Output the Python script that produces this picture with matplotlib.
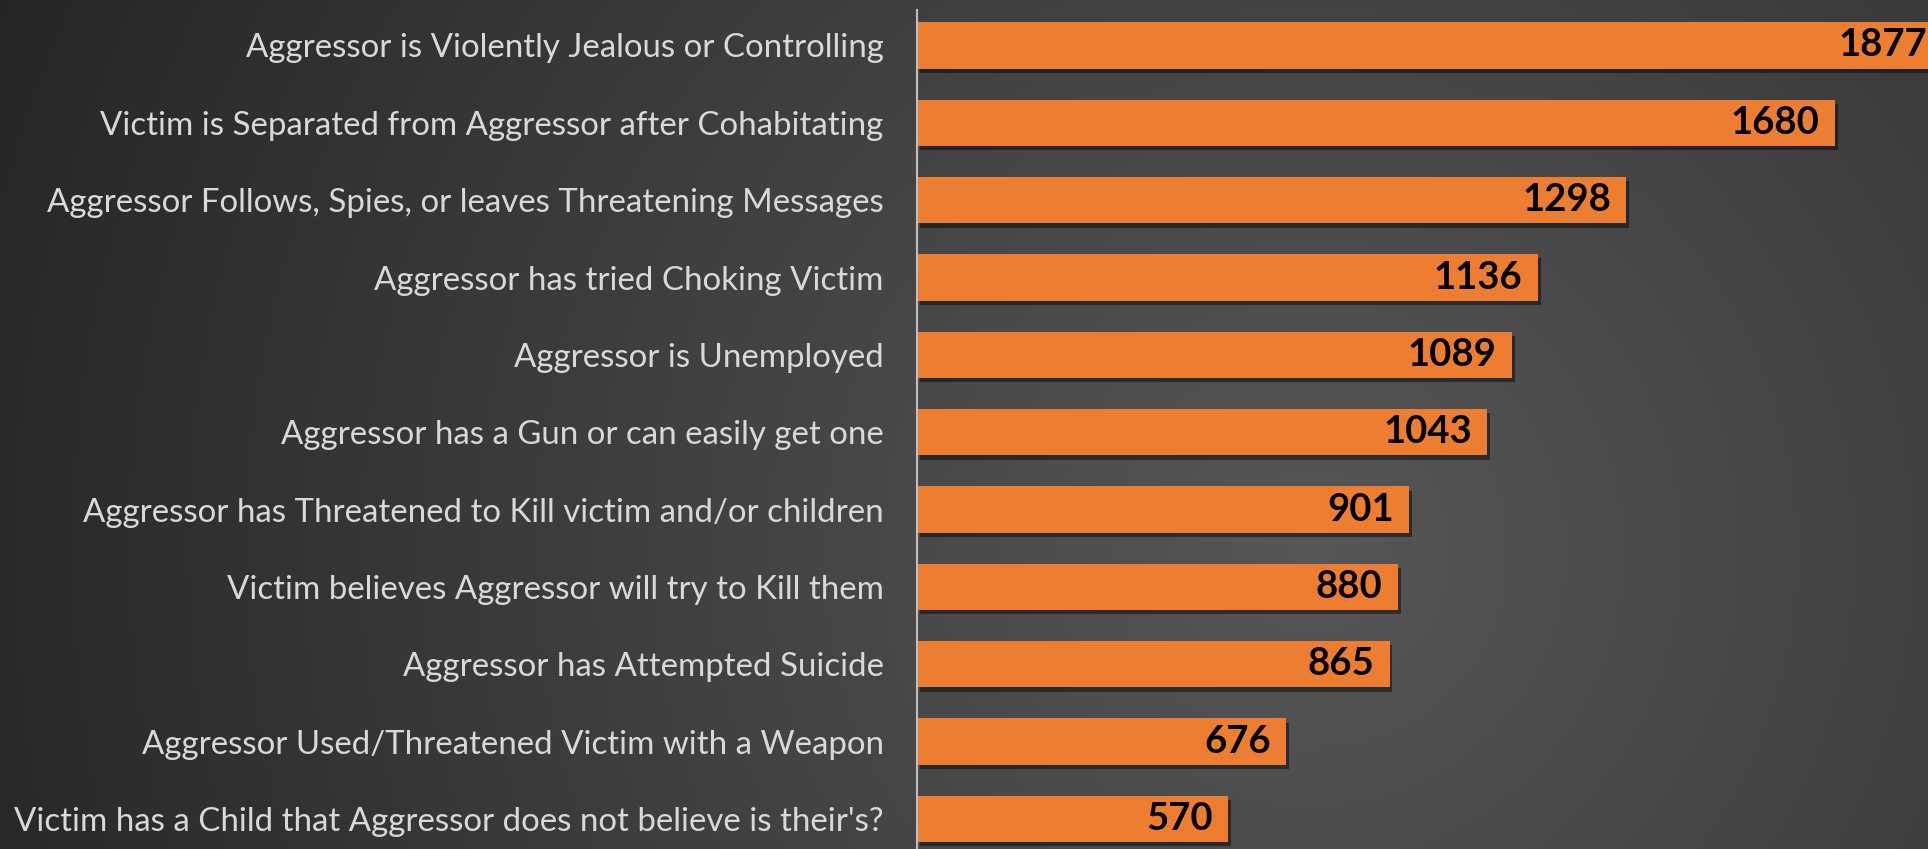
import numpy as np
import matplotlib
matplotlib.use("Agg")
import matplotlib.pyplot as plt
import matplotlib.patheffects as pe

# dados do grafico
categorias = [
    "Aggressor is Violently Jealous or Controlling",
    "Victim is Separated from Aggressor after Cohabitating",
    "Aggressor Follows, Spies, or leaves Threatening Messages",
    "Aggressor has tried Choking Victim",
    "Aggressor is Unemployed",
    "Aggressor has a Gun or can easily get one",
    "Aggressor has Threatened to Kill victim and/or children",
    "Victim believes Aggressor will try to Kill them",
    "Aggressor has Attempted Suicide",
    "Aggressor Used/Threatened Victim with a Weapon",
    "Victim has a Child that Aggressor does not believe is their's?",
]
valores = [1877, 1680, 1298, 1136, 1089, 1043, 901, 880, 865, 676, 570]

plt.rcParams["font.family"] = ["Lato", "DejaVu Sans"]

fig = plt.figure(figsize=(19.28, 8.49), dpi=100)

# fundo com degrade
bg = fig.add_axes([0, 0, 1, 1], zorder=0)
yy, xx = np.mgrid[0:1:300j, 0:1:700j]
dist = np.sqrt(((xx - 0.68) * 2.27) ** 2 + (yy - 0.35) ** 2)
nivel = np.clip(0.34 - 0.115 * dist, 0.12, 0.36)
bg.imshow(np.dstack([nivel] * 3), extent=[0, 1, 0, 1], origin="lower", aspect="auto")
bg.axis("off")

ax = fig.add_axes([917 / 1928, 0, 1 - 917 / 1928, 1], zorder=1)
ax.patch.set_alpha(0)

pos = np.arange(len(categorias))
barras = ax.barh(pos, valores, height=0.6, color="#ED7D31",
                 path_effects=[pe.withSimplePatchShadow(offset=(2, -3), shadow_rgbFace="black", alpha=0.45)])

ax.set_xlim(0, 1850)
ax.set_ylim(10.388, -0.588)
ax.set_yticks(pos)
ax.set_yticklabels(categorias, fontsize=23.8, color="#d9d9d9")
ax.tick_params(axis="y", length=0, pad=24)
ax.set_xticks([])

for s in ["top", "right", "bottom"]:
    ax.spines[s].set_visible(False)
ax.spines["left"].set_color("#bfbfbf")
ax.spines["left"].set_linewidth(1.5)
ax.spines["left"].set_bounds(10.388, -0.46)

for b, v in zip(barras, valores):
    ax.text(v - 28, b.get_y() + b.get_height() / 2, str(v), ha="right", va="center",
            fontsize=27.5, fontweight="bold", color="black", clip_on=False)

fig.savefig("out.png", dpi=100)
